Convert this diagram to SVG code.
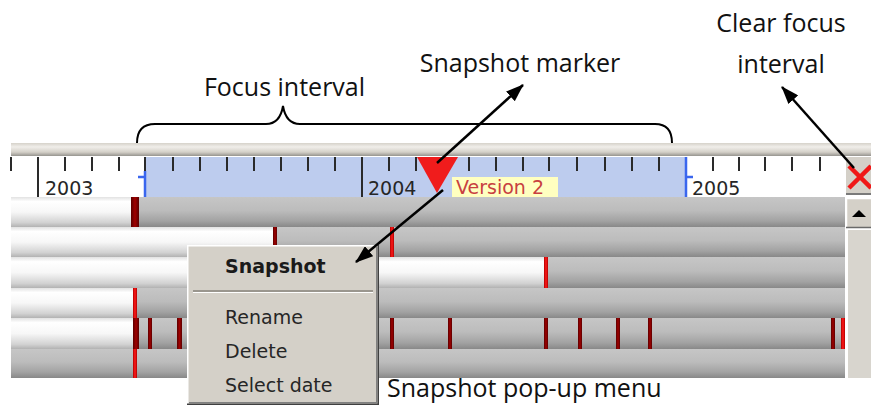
<svg xmlns="http://www.w3.org/2000/svg" width="871" height="406" viewBox="0 0 871 406">
  <defs>
    <style>
      .note { font-family: "Open Sans", "Noto Sans", sans-serif; font-size: 25px; fill: #111; }
      .ui { font-family: "DejaVu Sans", Verdana, sans-serif; font-size: 19px; fill: #262626; }
      .bold { font-weight: bold; fill: #1a1a1a; }
      .tick { stroke: #2a2a2a; stroke-width: 2; }
      .focusEdge { stroke: #3a66ee; stroke-width: 2.5; fill: none; }
      .bar-gray { fill: url(#gGray); }
      .bar-white { fill: url(#gWhite); }
      .mk-dark { fill: url(#gDark); }
      .mk-red { fill: url(#gRed); }
      .conn { stroke: #000; stroke-width: 2.5; fill: none; marker-end: url(#head); }
      .face { fill: #d4d0c8; }
    </style>
    <linearGradient id="gBand" x1="0" y1="0" x2="0" y2="1">
      <stop offset="0" stop-color="#d6d2ca"/>
      <stop offset="0.3" stop-color="#f0eeea"/>
      <stop offset="0.7" stop-color="#d4d0c8"/>
      <stop offset="1" stop-color="#96948f"/>
    </linearGradient>
    <linearGradient id="gGray" x1="0" y1="0" x2="0" y2="1">
      <stop offset="0" stop-color="#c6c6c6"/>
      <stop offset="0.45" stop-color="#bcbcbc"/>
      <stop offset="0.8" stop-color="#a2a2a2"/>
      <stop offset="1" stop-color="#888888"/>
    </linearGradient>
    <linearGradient id="gWhite" x1="0" y1="0" x2="0" y2="1">
      <stop offset="0" stop-color="#e2e2e2"/>
      <stop offset="0.15" stop-color="#ffffff"/>
      <stop offset="0.5" stop-color="#f7f7f7"/>
      <stop offset="0.85" stop-color="#d2d2d2"/>
      <stop offset="1" stop-color="#b2b2b2"/>
    </linearGradient>
    <linearGradient id="gDark" x1="0" y1="0" x2="1" y2="0">
      <stop offset="0" stop-color="#5a0000"/>
      <stop offset="0.5" stop-color="#a00000"/>
      <stop offset="1" stop-color="#5a0000"/>
    </linearGradient>
    <linearGradient id="gRed" x1="0" y1="0" x2="1" y2="0">
      <stop offset="0" stop-color="#b00000"/>
      <stop offset="0.5" stop-color="#ff1a1a"/>
      <stop offset="1" stop-color="#b00000"/>
    </linearGradient>
    <marker id="head" viewBox="0 0 18 13" refX="17" refY="6.5" markerWidth="18" markerHeight="13" markerUnits="userSpaceOnUse" orient="auto">
      <path d="M0,0 L18,6.5 L0,13 z" fill="#000"/>
    </marker>
  </defs>

  <rect width="871" height="406" fill="#fff"/>

  <!-- time ruler with focus interval -->
  <g id="ruler">
    <rect x="11" y="143" width="860" height="13" fill="url(#gBand)"/>
    <rect x="11" y="156" width="835" height="41" fill="#fff"/>
    <rect x="145" y="157" width="541" height="40" fill="#bdccee"/>
    <g class="tick">
      <line x1="11" y1="157" x2="11" y2="171"/>
      <line x1="38" y1="157" x2="38" y2="197"/>
      <line x1="65" y1="157" x2="65" y2="171"/>
      <line x1="92" y1="157" x2="92" y2="171"/>
      <line x1="119" y1="157" x2="119" y2="171"/>
      <line x1="145" y1="157" x2="145" y2="171"/>
      <line x1="173" y1="157" x2="173" y2="171"/>
      <line x1="200" y1="157" x2="200" y2="171"/>
      <line x1="227" y1="157" x2="227" y2="171"/>
      <line x1="254" y1="157" x2="254" y2="171"/>
      <line x1="281" y1="157" x2="281" y2="171"/>
      <line x1="308" y1="157" x2="308" y2="171"/>
      <line x1="335" y1="157" x2="335" y2="171"/>
      <line x1="362" y1="157" x2="362" y2="197"/>
      <line x1="389" y1="157" x2="389" y2="171"/>
      <line x1="416" y1="157" x2="416" y2="171"/>
      <line x1="443" y1="157" x2="443" y2="171"/>
      <line x1="469" y1="157" x2="469" y2="171"/>
      <line x1="496" y1="157" x2="496" y2="171"/>
      <line x1="523" y1="157" x2="523" y2="171"/>
      <line x1="549" y1="157" x2="549" y2="171"/>
      <line x1="577" y1="157" x2="577" y2="171"/>
      <line x1="605" y1="157" x2="605" y2="171"/>
      <line x1="632" y1="157" x2="632" y2="171"/>
      <line x1="659" y1="157" x2="659" y2="171"/>
      <line x1="713" y1="157" x2="713" y2="171"/>
      <line x1="739" y1="157" x2="739" y2="171"/>
      <line x1="765" y1="157" x2="765" y2="171"/>
      <line x1="792" y1="157" x2="792" y2="171"/>
      <line x1="820" y1="157" x2="820" y2="171"/>
    </g>
    <path class="focusEdge" d="M145,171 V197 M138,177 H145"/>
    <path class="focusEdge" d="M686,157 V197 M686,177 H693"/>
    <text class="ui" x="45" y="195">2003</text>
    <text class="ui" x="368" y="195">2004</text>
    <text class="ui" x="692" y="195">2005</text>
  </g>

  <!-- snapshot marker and its tooltip -->
  <g id="snapshot-marker">
    <polygon points="417,157 458,157 437,193" fill="#f01c1c"/>
    <rect x="452" y="177" width="106" height="20" fill="#ffffc0"/>
    <text class="ui" x="456" y="194" fill="#c84040" style="fill:#c84040">Version 2</text>
  </g>

  <!-- clear focus button -->
  <g id="clear-button">
    <rect class="face" x="846" y="157" width="25" height="38"/>
    <line x1="846" y1="194" x2="871" y2="194" stroke="#7a7a7a" stroke-width="2"/>
    <path d="M849,166 L871,188 M849,188 L871,166" stroke="#f01818" stroke-width="4.5"/>
  </g>

  <!-- timeline rows -->
  <g id="row-1">
    <rect class="bar-gray" x="11" y="197" width="834" height="30"/>
    <rect class="bar-white" x="11" y="197" width="121" height="30"/>
    <rect class="mk-dark" x="131" y="197" width="8" height="30"/>
  </g>
  <g id="row-2">
    <rect class="bar-gray" x="11" y="227" width="834" height="30"/>
    <rect class="bar-white" x="11" y="227" width="263" height="30"/>
    <rect class="mk-dark" x="273" y="227" width="4" height="30"/>
    <rect class="mk-red" x="390" y="227" width="4" height="30"/>
  </g>
  <g id="row-3">
    <rect class="bar-gray" x="11" y="257" width="834" height="31"/>
    <rect class="bar-white" x="11" y="257" width="534" height="31"/>
    <rect class="mk-red" x="544" y="257" width="4" height="31"/>
  </g>
  <g id="row-4">
    <rect class="bar-gray" x="11" y="288" width="834" height="30"/>
    <rect class="bar-white" x="11" y="288" width="123" height="30"/>
    <rect class="mk-red" x="133" y="288" width="4" height="30"/>
  </g>
  <g id="row-5">
    <rect class="bar-gray" x="11" y="318" width="834" height="31"/>
    <rect class="bar-white" x="11" y="318" width="123" height="31"/>
    <rect class="mk-dark" x="133" y="318" width="6" height="31"/>
    <rect class="mk-dark" x="148" y="318" width="4" height="31"/>
    <rect class="mk-dark" x="177" y="318" width="5" height="31"/>
    <rect class="mk-dark" x="390" y="318" width="4" height="31"/>
    <rect class="mk-dark" x="448" y="318" width="4" height="31"/>
    <rect class="mk-dark" x="544" y="318" width="4" height="31"/>
    <rect class="mk-dark" x="578" y="318" width="4" height="31"/>
    <rect class="mk-dark" x="616" y="318" width="4" height="31"/>
    <rect class="mk-dark" x="648" y="318" width="4" height="31"/>
    <rect class="mk-dark" x="831" y="318" width="4" height="31"/>
    <rect class="mk-red" x="841" y="318" width="4" height="31"/>
  </g>
  <g id="row-6">
    <rect class="bar-gray" x="11" y="349" width="834" height="29"/>
    <rect class="mk-red" x="133" y="349" width="4" height="29"/>
  </g>

  <!-- vertical scrollbar -->
  <g id="scrollbar">
    <rect class="face" x="846" y="198" width="25" height="30"/>
    <path d="M846.5,228 V198.5 H871" stroke="#fff" stroke-width="1.5" fill="none"/>
    <line x1="846" y1="227.5" x2="871" y2="227.5" stroke="#6a6a6a" stroke-width="1.5"/>
    <polygon points="852,217 866,217 859,210" fill="#000"/>
    <rect x="846" y="230" width="25" height="148" fill="#d8d5ce"/>
    <line x1="847" y1="230" x2="847" y2="378" stroke="#fff" stroke-width="2"/>
  </g>

  <!-- context menu -->
  <g id="popup-menu">
    <rect class="face" x="187" y="245" width="192" height="160"/>
    <path d="M187.75,404 V245.75 H378" stroke="#fff" stroke-width="1.5" fill="none"/>
    <path d="M378.25,245 V404.25 H187" stroke="#404040" stroke-width="1.5" fill="none"/>
    <path d="M376.75,247 V402.75 H189" stroke="#808080" stroke-width="1.5" fill="none"/>
    <line x1="193" y1="291" x2="373" y2="291" stroke="#9a968e" stroke-width="2"/>
    <line x1="193" y1="292.5" x2="373" y2="292.5" stroke="#fff" stroke-width="1"/>
    <text class="ui bold" x="225" y="273">Snapshot</text>
    <text class="ui" x="225" y="324">Rename</text>
    <text class="ui" x="225" y="358">Delete</text>
    <text class="ui" x="225" y="392">Select date</text>
  </g>

  <!-- focus interval brace -->
  <g id="focus-brace">
    <path d="M137,143 C137,131 142,124 155,124 L266,124 C276,124 281,118 283,106 C285,118 290,124 300,124 L655,124 C667,124 672,131 672,143" stroke="#000" stroke-width="2" fill="none"/>
  </g>

  <!-- callout labels -->
  <g id="label-focus"><text class="note" x="284.5" y="96" text-anchor="middle">Focus interval</text></g>
  <g id="label-marker"><text class="note" x="520" y="72" text-anchor="middle">Snapshot marker</text></g>
  <g id="label-clear">
    <text class="note" x="781" y="32" text-anchor="middle">Clear focus</text>
    <text class="note" x="781" y="73" text-anchor="middle">interval</text>
  </g>
  <g id="label-menu"><text class="note" x="387" y="397">Snapshot pop-up menu</text></g>

  <!-- callout arrows -->
  <g id="connectors">
    <line class="conn" x1="437" y1="163" x2="523" y2="85"/>
    <line class="conn" x1="443" y1="190" x2="356" y2="262"/>
    <line class="conn" x1="854" y1="168" x2="782" y2="87"/>
  </g>
</svg>
